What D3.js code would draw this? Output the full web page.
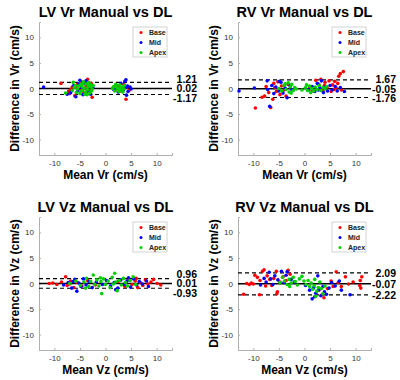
<!DOCTYPE html>
<html>
  <head>
    <title>Bland-Altman</title>
    <script src="https://d3js.org/d3.v7.min.js"></script>
    <style>
      body { margin: 0; background: #fff; }
      text { font-family: "Liberation Sans", Arial, sans-serif; }
    </style>
  </head>
  <body>
  </body>
</html>

<script>
  // panel titles, axis names
  var titles = ["LV Vr Manual vs DL", "RV Vr Manual vs DL", "LV Vz Manual vs DL", "RV Vz Manual vs DL"];
  var yNames = ["Difference in Vr (cm/s)", "Difference in Vr (cm/s)", "Difference in Vz (cm/s)", "Difference in Vz (cm/s)"];
  var xNames = ["Mean Vr (cm/s)", "Mean Vr (cm/s)", "Mean Vz (cm/s)", "Mean Vz (cm/s)"];
  var groups = ["Base", "Mid", "Apex"];
  var tickVals = [-10, -5, 0, 5, 10];

  // [mean, upper LoA, lower LoA]
  var stats = [
    [0.02, 1.21, -1.17],
    [-0.05, 1.67, -1.76],
    [0.01, 0.96, -0.93],
    [-0.07, 2.09, -2.22]
  ];

  // LV Vr  [mean, difference]
  var lvVrBase = [[-8.7,1.0],[-7.2,-0.5],[-7.0,-1.0],[-6.5,0.3],[-6.0,-1.4],[-5.5,0.8],[-5.0,-0.3],[-4.6,1.2],[-4.2,-0.8],[-3.8,0.5],[-3.5,1.8],[-3.0,-0.4],[-2.6,-1.7],[-2.8,1.0],[-5.8,0.2],[-6.8,-0.2],[1.5,0.2],[2.0,-0.3],[2.6,0.5],[3.0,-0.5],[3.6,0.8],[4.0,-2.1],[4.3,0.3],[4.6,-0.4],[3.2,0.1],[-4.0,0.0]];
  var lvVrMid = [[-12.1,0.3],[-7.5,-1.1],[-6.8,-0.8],[-6.2,0.6],[-5.8,-1.6],[-5.4,-0.5],[-5.0,1.6],[-4.7,0.2],[-4.4,-1.2],[-4.0,1.0],[-3.6,-0.6],[-3.2,0.4],[-2.9,-1.1],[-2.5,0.2],[-3.8,1.5],[-5.2,0.9],[1.6,-0.2],[2.1,0.6],[2.5,-0.7],[3.0,1.0],[3.5,-0.3],[3.8,1.4],[4.0,1.7],[4.1,-1.3],[4.3,0.5],[4.8,0.3],[5.0,-0.1],[4.4,-0.6],[3.9,0.2]];
  var lvVrApex = [[-7.8,-0.9],[-6.5,-0.4],[-6.1,0.2],[-5.7,-0.8],[-5.3,0.5],[-5.0,-1.0],[-4.8,0.8],[-4.5,-0.3],[-4.3,1.3],[-4.1,0.1],[-3.9,-0.7],[-3.7,0.9],[-3.5,-0.2],[-3.3,1.1],[-3.1,-0.9],[-2.9,0.3],[-2.7,-0.5],[-2.4,0.6],[-4.6,0.4],[-5.5,-0.1],[-3.4,0.4],[-4.0,-1.1],[-6.3,1.2],[-5.9,0.6],[-4.9,-0.6],[-4.4,0.9],[-3.6,-1.2],[-3.0,0.8],[-2.6,-0.1],[1.4,0.0],[1.8,-0.5],[2.2,0.4],[2.4,-0.2],[2.8,0.7],[3.1,-0.4],[3.3,0.3],[3.6,-0.1],[2.0,0.8],[2.9,0.1],[3.7,0.6],[1.6,0.4],[3.4,-0.7],[2.6,-0.6],[2.3,0.1],[3.0,-0.2]];

  // RV Vr
  var rvVrBase = [[-9.6,-3.8],[-8.3,-1.7],[-7.8,-1.5],[-7.5,0.4],[-7.0,-0.8],[-6.6,-3.7],[-6.2,-2.1],[-6.0,1.0],[-5.5,-0.6],[-5.2,1.3],[-4.8,-1.2],[-4.5,0.5],[-4.0,-0.3],[-3.6,-1.5],[-3.2,0.8],[-5.8,0.2],[1.0,0.3],[1.5,-0.5],[2.2,1.6],[2.8,0.8],[3.2,1.8],[3.6,-0.4],[4.0,1.2],[4.4,0.2],[4.8,1.5],[5.2,-0.6],[5.5,0.7],[5.9,1.4],[6.2,0.1],[6.5,1.0],[6.7,2.4],[7.0,2.9],[7.6,3.3],[7.2,-0.3],[5.8,-0.2],[3.9,0.6]];
  var rvVrMid = [[-12.8,-0.5],[-9.8,0.1],[-7.3,1.5],[-6.8,-3.5],[-7.2,-0.2],[-6.4,0.6],[-6.0,-1.0],[-5.6,0.3],[-5.0,-0.5],[-4.6,1.2],[-4.2,-0.9],[-3.8,0.1],[-3.4,-1.8],[-2.8,0.5],[-2.5,-0.2],[-4.9,1.4],[0.8,-0.2],[1.5,0.4],[2.0,-0.6],[2.5,1.0],[3.0,0.1],[3.3,1.5],[3.7,-0.8],[4.1,0.3],[4.5,-0.5],[5.0,0.6],[5.4,-0.3],[6.0,0.4],[6.4,-0.5],[7.0,0.2],[7.8,-0.6],[2.7,-0.3]];
  var rvVrApex = [[-5.0,0.0],[-4.5,-0.5],[-4.0,0.6],[-3.6,-0.2],[-3.2,1.1],[-3.0,-0.7],[-2.8,0.3],[-2.5,0.8],[-2.2,-0.4],[-1.9,0.2],[-1.6,-0.1],[-3.8,0.9],[-2.6,-0.9],[-0.5,-0.3],[0.2,0.2],[0.6,-0.4],[1.0,0.5],[1.4,0.0],[1.8,-0.5],[2.1,0.3],[2.5,-0.2],[2.9,0.6],[3.2,-0.4],[3.6,0.2],[4.0,-0.1],[4.3,0.4],[1.2,-0.8],[0.4,0.7]];

  // LV Vz
  var lvVzBase = [[-11.0,0.0],[-10.3,0.1],[-9.5,-0.2],[-8.6,0.3],[-7.8,1.3],[-7.5,-0.4],[-6.8,0.5],[-6.2,-0.8],[-5.5,0.2],[-4.6,-0.5],[-3.5,0.6],[-2.0,-0.3],[2.5,0.4],[3.8,-0.6],[4.5,0.8],[5.2,-0.2],[5.8,0.5],[6.3,-0.8],[6.8,0.2],[7.3,-0.4],[7.8,0.7],[8.3,-0.1],[8.9,0.3],[9.4,0.8],[10.1,0.0],[10.8,-0.3],[-7.0,-0.1],[6.0,1.0]];
  var lvVzMid = [[-8.2,-0.3],[-7.3,0.2],[-6.6,-0.9],[-6.0,0.8],[-5.6,-1.5],[-5.2,0.1],[-4.8,-0.6],[-4.3,0.9],[-3.8,-0.3],[-3.2,0.4],[-2.6,-0.8],[-1.8,0.3],[-0.6,-0.2],[0.2,0.6],[1.0,-0.5],[1.7,0.2],[2.4,-0.9],[3.0,0.7],[3.6,-0.2],[4.2,0.5],[4.9,-0.7],[5.5,0.9],[6.1,-0.3],[6.6,0.4],[7.2,-0.1],[8.0,0.5],[8.4,-0.6],[-6.3,0.4],[2.0,-1.2],[4.5,1.1]];
  var lvVzApex = [[-7.0,0.0],[-5.8,0.5],[-4.9,-0.4],[-4.2,0.3],[-3.7,1.0],[-3.3,-0.6],[-2.9,0.4],[-2.4,1.65],[-2.1,-0.2],[-1.7,0.7],[-1.3,-0.5],[-0.9,0.4],[-0.75,-1.97],[-0.4,0.9],[0.0,-0.2],[0.5,0.5],[0.9,-0.8],[1.3,1.2],[1.8,2.0],[2.0,0.3],[2.3,-1.4],[2.7,0.6],[3.1,-0.3],[3.5,1.0],[3.9,0.2],[4.3,-0.5],[4.8,0.6],[5.4,1.3],[5.9,-0.2],[-3.9,-0.9],[1.5,-0.1],[-1.0,1.1]];

  // RV Vz
  var rvVzBase = [[-11.9,-2.1],[-11.3,0.0],[-10.8,-0.2],[-10.4,0.1],[-10.0,-0.1],[-9.7,1.6],[-9.2,1.2],[-8.7,0.6],[-8.2,2.4],[-7.9,2.7],[-7.3,1.5],[-6.8,0.8],[-6.4,-0.4],[-6.0,1.0],[-5.5,2.4],[-5.3,-1.6],[-5.4,-2.0],[-4.8,0.3],[-4.2,1.3],[-3.6,0.6],[-3.2,2.6],[-2.8,1.8],[-7.6,-0.5],[-8.8,-2.2],[2.8,-1.3],[3.4,-2.2],[3.8,-2.8],[4.5,-1.0],[5.2,0.5],[5.6,-0.6],[6.2,2.3],[6.6,0.2],[7.2,-0.6],[8.0,1.3],[8.6,-0.1],[9.5,0.3],[10.8,-0.4],[11.0,-0.9],[11.2,1.3],[10.9,0.6]];
  var rvVzMid = [[-8.6,-0.3],[-7.9,1.0],[-7.5,0.3],[-6.9,2.2],[-6.6,0.9],[-6.2,-0.2],[-5.8,1.5],[-5.2,0.7],[-4.5,2.4],[-4.0,0.2],[-3.6,1.6],[-3.4,2.3],[-2.6,0.8],[-2.0,0.3],[0.2,-0.4],[1.0,-1.3],[1.5,-3.0],[1.8,-0.8],[2.2,-1.9],[2.6,1.5],[2.8,-1.2],[3.2,-2.4],[3.6,-0.6],[3.9,-1.6],[4.3,-2.1],[4.8,-0.9],[5.3,0.2],[6.0,-0.5],[6.8,0.5],[7.2,-1.3],[8.9,-2.2],[2.0,-2.6]];
  var rvVzApex = [[-4.8,0.2],[-4.3,1.2],[-3.9,0.5],[-3.4,-0.2],[-3.0,0.8],[-2.6,0.1],[-2.2,1.2],[-1.8,0.4],[-1.4,-0.3],[-1.0,0.9],[-0.5,1.4],[-0.1,0.5],[0.3,-0.2],[0.7,0.6],[1.0,-0.6],[1.3,0.1],[1.6,-1.1],[1.9,-0.4],[2.2,-2.5],[2.4,-1.5],[2.7,-0.8],[3.0,0.3],[3.3,-1.0],[3.6,-2.0],[4.0,-0.5],[2.0,0.8],[-2.9,-0.6]];

  var panelData = [
    [lvVrBase, lvVrMid, lvVrApex],
    [rvVrBase, rvVrMid, rvVrApex],
    [lvVzBase, lvVzMid, lvVzApex],
    [rvVzBase, rvVzMid, rvVzApex]
  ];

  var colors = ["#ff0000", "#0000ff", "#00d000"];

  var svg = d3.select("body").append("svg")
              .attr("width", 400)
              .attr("height", 380);

  // axes box positions (left, top) of each panel
  var origins = [[39, 22], [238, 22], [39, 217], [238, 217]];
  var boxW = 133, boxH = 133;

  var x = d3.scaleLinear().domain([-13, 13]).range([0, boxW]);
  var y = d3.scaleLinear().domain([-13, 13]).range([boxH, 0]);

  // plain hyphen for negatives
  var fmt = function (d) { return String(d); };

  origins.forEach(function (o, i) {
    var g = svg.append("g").attr("transform", "translate(" + o[0] + "," + o[1] + ")");

    // title
    g.append("text")
     .attr("x", boxW / 2).attr("y", -5.5)
     .attr("text-anchor", "middle")
     .style("font-size", "14.5px").style("font-weight", "bold")
     .attr("fill", "#000")
     .text(titles[i]);

    // axes
    var xAxis = d3.axisBottom(x).tickValues(tickVals).tickFormat(fmt).tickSize(-2).tickPadding(5);
    var yAxis = d3.axisLeft(y).tickValues(tickVals).tickFormat(fmt).tickSize(-2).tickPadding(5);

    var gx = g.append("g").attr("transform", "translate(0," + boxH + ")").call(xAxis);
    var gy = g.append("g").call(yAxis);
    [gx, gy].forEach(function (a) {
      a.select(".domain").attr("stroke", "#b0b0b0").attr("stroke-width", 1);
      a.selectAll(".tick line").attr("stroke", "#b0b0b0");
      a.selectAll(".tick text").attr("fill", "#333").style("font-size", "8px")
       .style("font-family", "'Liberation Sans', Arial, sans-serif");
    });

    // axis labels
    g.append("text")
     .attr("x", boxW / 2).attr("y", boxH + 24)
     .attr("text-anchor", "middle")
     .style("font-size", "12px").style("font-weight", "bold")
     .text(xNames[i]);
    g.append("text")
     .attr("transform", "translate(-20," + (boxH / 2) + ") rotate(-90)")
     .attr("text-anchor", "middle")
     .style("font-size", "12px").style("font-weight", "bold")
     .text(yNames[i]);

    // mean and limits of agreement
    var s = stats[i];
    g.append("line")
     .attr("x1", 0).attr("x2", boxW)
     .attr("y1", y(s[0])).attr("y2", y(s[0]))
     .attr("stroke", "#000").attr("stroke-width", 1.5);
    g.selectAll("line.loa")
     .data([s[1], s[2]])
     .enter()
     .append("line")
     .attr("class", "loa")
     .attr("x1", 0).attr("x2", boxW)
     .attr("y1", function (d) { return y(d); })
     .attr("y2", function (d) { return y(d); })
     .attr("stroke", "#000").attr("stroke-width", 1.2)
     .attr("stroke-dasharray", "4,3");

    // points
    panelData[i].forEach(function (pts, k) {
      g.selectAll("circle.g" + k)
       .data(pts)
       .enter()
       .append("circle")
       .attr("class", "g" + k)
       .attr("cx", function (d) { return x(d[0]); })
       .attr("cy", function (d) { return y(d[1]); })
       .attr("r", 1.8)
       .attr("fill", colors[k]);
    });

    // stat labels, pushed apart so they don't overlap
    var ym = y(s[0]);
    var labY = [ym, Math.min(y(s[1]), ym - 9.5), Math.max(y(s[2]), ym + 9.5)];
    g.selectAll("text.stat")
     .data([s[0], s[1], s[2]])
     .enter()
     .append("text")
     .attr("class", "stat")
     .attr("x", boxW + 25)
     .attr("y", function (d, j) { return labY[j]; })
     .attr("dy", "0.36em")
     .attr("text-anchor", "end")
     .style("font-size", "10.5px").style("font-weight", "bold")
     .text(function (d) { return d.toFixed(2); });

    // legend
    var lg = g.append("g").attr("transform", "translate(" + (boxW - 39) + ",5)");
    lg.append("rect")
      .attr("width", 34).attr("height", 30)
      .attr("fill", "#fff").attr("stroke", "#c8c8c8").attr("stroke-width", 0.8);
    groups.forEach(function (name, k) {
      lg.append("circle")
        .attr("cx", 8).attr("cy", 5.5 + k * 10).attr("r", 1.5)
        .attr("fill", colors[k]);
      lg.append("text")
        .attr("x", 16).attr("y", 5.5 + k * 10).attr("dy", "0.36em")
        .style("font-size", "7px").style("font-weight", "bold")
        .attr("fill", "#222")
        .text(name);
    });
  });
</script>
